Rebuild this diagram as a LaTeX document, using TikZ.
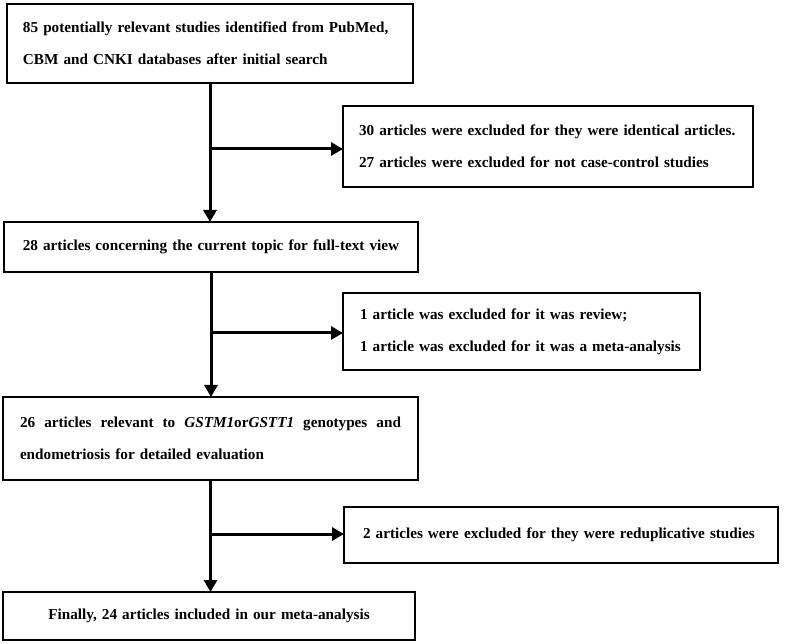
\documentclass[tikz,border=0pt]{standalone}
\usepackage{fontspec}
\setmainfont{Liberation Serif}
\usetikzlibrary{arrows.meta}

\tikzset{
  box/.style={draw, line width=2.6pt, outer sep=0pt, anchor=north west,
    font=\bfseries\fontsize{15.2}{32}\selectfont},
  flow/.style={line width=3pt, -{Triangle[length=12pt,width=13pt]}}
}

\begin{document}
\begin{tikzpicture}[x=1pt, y=-1pt]
            \useasboundingbox (0,0) rectangle (785,644);

            \node[box, align=left, inner xsep=16pt, text width=374pt, minimum width=406pt, minimum height=79pt] (search) at (7,4)
                {85 potentially relevant studies identified from PubMed,\\CBM and CNKI databases after initial search};
            \node[box, align=left, inner xsep=16pt, text width=378pt, minimum width=410pt, minimum height=81pt] (excl1) at (343,106)
                {30 articles were excluded for they were identical articles.\\27 articles were excluded for not case-control studies};
            \node[box, align=center, text width=400pt, minimum width=414pt, minimum height=50pt] (full) at (4,222)
                {28 articles concerning the current topic for full-text view};
            \node[box, align=left, inner xsep=17pt, text width=323pt, minimum width=357pt, minimum height=77pt] (excl2) at (343,293)
                {1 article was excluded for it was review;\\1 article was excluded for it was a meta-analysis};
            \node[box, align=left, inner xsep=17pt, text width=381pt, minimum width=415pt, minimum height=83pt] (eval) at (3,397)
                {\makebox[\hsize][s]{\spaceskip=.25em plus 1fil\relax 26 articles relevant to \textit{GSTM1}or\textit{GSTT1} genotypes and}\\endometriosis for detailed evaluation};
            \node[box, align=left, inner xsep=19pt, text width=396pt, minimum width=434pt, minimum height=56pt] (excl3) at (344,507)
                {2 articles were excluded for they were reduplicative studies};
            \node[box, align=center, text width=398pt, minimum width=412pt, minimum height=48pt] (final) at (3,592)
                {Finally, 24 articles included in our meta-analysis};

            \coordinate (split1) at (211,149);
            \coordinate (split2) at (211,333);
            \coordinate (split3) at (211,534);

            \draw[flow] (search.south) -- (search.south |- full.north);
            \draw[flow] (full.south) -- (full.south |- eval.north);
            \draw[flow] (eval.south) -- (eval.south |- final.north);

            \draw[flow] (split1) -- (split1 -| excl1.west);
            \draw[flow] (split2) -- (split2 -| excl2.west);
            \draw[flow] (split3) -- (split3 -| excl3.west);
\end{tikzpicture}
\end{document}
